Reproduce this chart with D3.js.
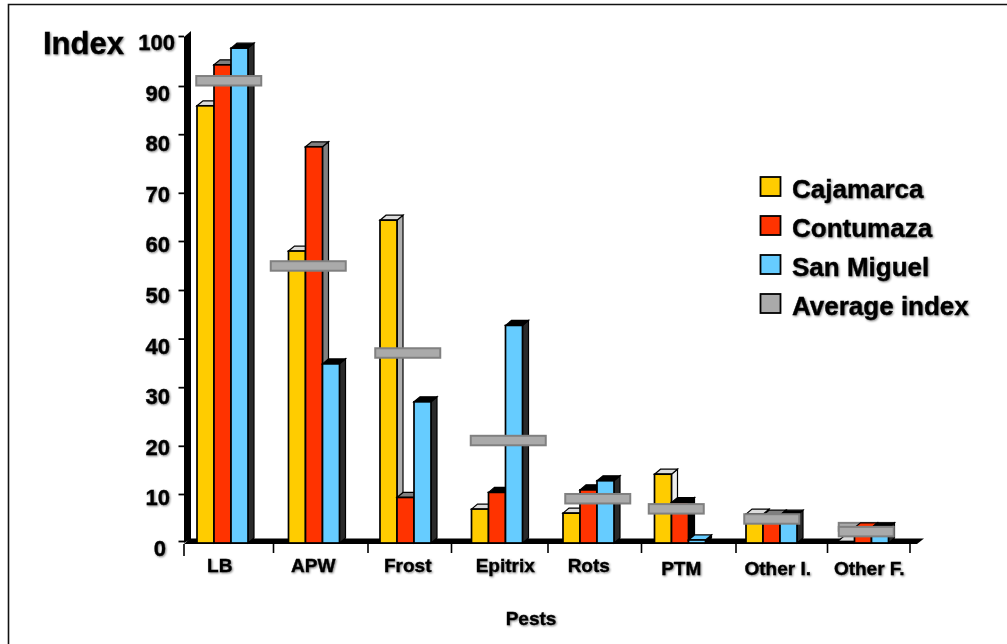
<!DOCTYPE html>
<html><head><meta charset="utf-8">
<script src="https://cdn.jsdelivr.net/npm/d3@7/dist/d3.min.js"></script>
<style>
html,body{margin:0;padding:0;background:#fff}
text{font-family:"Liberation Sans",Arial,sans-serif;font-weight:bold;fill:#000;stroke:#000;stroke-width:.35px;filter:drop-shadow(1.5px 1.5px 1px #808080)}
</style></head><body><div id="c"></div>
<script>
const categories=["LB","APW","Frost","Epitrix","Rots","PTM","Other I.","Other F."];
const seriesNames=["Cajamarca","Contumaza","San Miguel","Average index"];
const cajamarca=[86.4,57.7,63.8,6.7,5.9,13.6,5.7,0.3];
const contumaza=[94.5,78.3,9,10,10.5,8,5.5,3];
const sanMiguel=[97.8,35.4,27.9,43,12.3,0.6,5.5,3];
const averageIndex=[91.3,54.7,37.5,20.2,8.7,6.7,4.7,2.2];
const yTicks=[0,10,20,30,40,50,60,70,80,90,100];

const W=1007,H=644,DX=6,DY=5;
const svg=d3.select("#c").append("svg").attr("width",W).attr("height",H).style("display","block");
// frame
svg.append("path").attr("d","M8.5,644V4.5H1007").attr("fill","none").attr("stroke","#111").attr("stroke-width",1.6);

const y=d3.scaleLinear().domain([0,100]).range([543,37]);
const x=d3.scaleBand().domain(categories).range([184,916]).paddingInner(0).paddingOuter(0);
const inner=d3.scaleBand().domain([0,1,2]).range([13,64]);
const colors=["#ffcc00","#ff3300","#66ccff"];
const styleTop=["#dcdcdc","#808080","#000"], styleSide=["#b0b0b0","#808080","#2a2a2a"];

// y axis: the source's tick marks sit slightly off the regular spacing of its labels
const tickShift=d3.scaleOrdinal().domain(yTicks).range([-2,1.6,4,-4,-2,0,1.6,4,-4,-1.6,-1]);
const gy=svg.append("g").attr("transform","translate(184,0)").call(d3.axisLeft(y).tickValues(yTicks).tickSize(5.5).tickPadding(0).tickSizeOuter(0));
gy.select(".domain").remove();
gy.selectAll(".tick line").attr("stroke","#000").attr("stroke-width",1.8).attr("y1",d=>tickShift(d)).attr("y2",d=>tickShift(d));
gy.selectAll(".tick text")
  .attr("dy",null).attr("y",12.5)
  .attr("x",d=>d==100?-9:d==0?-18:-14)
  .style("font-size","22px").style("font-family",'"Liberation Sans"').style("font-weight","bold");
svg.append("path").attr("d","M184,543V37L191,31V539Z").attr("fill","#000");
// base floor
svg.append("path").attr("d","M184,544L190,538.5H924L917,544Z").attr("fill","#000");

// x ticks (irregular in the source)
const tickNudge=[0,-2,1,-7,-2,0,3,3,-6];
const tickEdges=[...categories.map(c=>x(c)),916];
svg.selectAll(".xt").data(tickEdges).join("line").attr("class","xt")
 .attr("x1",(d,i)=>d+tickNudge[i]).attr("x2",(d,i)=>d+tickNudge[i])
 .attr("y1",544).attr("y2",(d,i)=>i==0?556:553).attr("stroke","#000").attr("stroke-width",1.6);

function bar3d(g,x0,w,v,color,top,side){
  const yt=y(v),yb=y(0);
  g.append("path").attr("d",`M${x0+w},${yt}l${DX},${-DY}V${yb-DY}l${-DX},${DY}Z`).attr("fill",side).attr("stroke","#000").attr("stroke-width",1.2);
  g.append("path").attr("d",`M${x0},${yt}l${DX},${-DY}h${w}l${-DX},${DY}Z`).attr("fill",top).attr("stroke","#000").attr("stroke-width",1.2);
  g.append("rect").attr("x",x0).attr("y",yt).attr("width",w).attr("height",yb-yt).attr("fill",color).attr("stroke","#000").attr("stroke-width",1.7);
}
const series=[cajamarca,contumaza,sanMiguel];
const avgCx=[-1,-13,-5,4,2,-11,-7,-4], avgW=[65,75,65,75,65,55,55,55];
categories.forEach((c,i)=>{
  const g=svg.append("g");
  if(i==7) g.append("rect").attr("x",x(c)+x.bandwidth()/2+avgCx[i]-avgW[i]/2).attr("y",y(averageIndex[i])-9)
     .attr("width",avgW[i]).attr("height",8).attr("fill","#aaa").attr("stroke","#808080").attr("stroke-width",2);
  series.forEach((s,k)=>{
    let top=styleTop[k],side=styleSide[k];
    if(k==0&&i==5){side="#eeeeee";}
    if(k==1&&[3,4,5].includes(i)){top="#000";side="#000";}
    if(k==1&&i==7){top=colors[1];side=colors[1];}
    if(k==2&&i==5){top=colors[2];side="#000";}
    bar3d(g,x(c)+inner(k),inner.bandwidth(),s[i],colors[k],top,side);
  });
});
// average markers
svg.selectAll(".avg").data(averageIndex).join("rect").attr("class","avg")
 .attr("x",(d,i)=>x(categories[i])+x.bandwidth()/2+avgCx[i]-avgW[i]/2)
 .attr("y",d=>y(d)-5).attr("width",(d,i)=>avgW[i]).attr("height",9.5)
 .attr("fill","#aaaaaa").attr("stroke","#808080").attr("stroke-width",2);

// category labels
const labelDx=[-10,-8,-5,1,-7,-6,-1,-1], labelY=[572,572,572,572,572,575,575,575];
svg.selectAll(".cl").data(categories).join("text").attr("class","cl")
 .attr("x",(d,i)=>x(d)+x.bandwidth()/2+labelDx[i]).attr("y",(d,i)=>labelY[i])
 .attr("text-anchor","middle").style("font-size","19px").text(d=>d);
svg.append("text").attr("x",531).attr("y",625).attr("text-anchor","middle").style("font-size","19px").text("Pests");
svg.append("text").attr("x",43).attr("y",54).style("font-size","31px").text("Index");

// legend
const legY=d3.scalePoint().domain(seriesNames).range([187,304]);
const legColors=[...colors,"#aaaaaa"];
seriesNames.forEach((n,i)=>{
  svg.append("rect").attr("x",760.5).attr("y",legY(n)-10).attr("width",20).attr("height",19)
    .attr("fill",legColors[i]).attr("stroke","#000").attr("stroke-width",1.8);
  svg.append("text").attr("x",792).attr("y",legY(n)+11).style("font-size","26px").text(n);
});
</script></body></html>
